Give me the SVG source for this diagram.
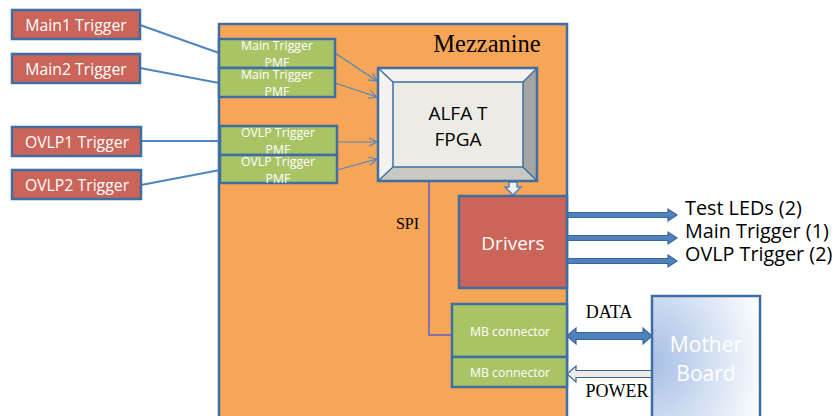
<svg xmlns="http://www.w3.org/2000/svg" width="836" height="416" viewBox="0 0 836 416">
<style>
.red{fill:#cb6459;stroke:#3f6ea3;stroke-width:2.5}
.grn{fill:#a9c465;stroke:#3f6ea3;stroke-width:2.5}
.wt{fill:#fff;font-family:"Open Sans","Liberation Sans",sans-serif;text-anchor:middle}
.ser{font-family:"Liberation Serif",serif;fill:#000}
.lbl{font-family:"Open Sans","Liberation Sans",sans-serif;font-size:19.8px;fill:#000}
.lnk{stroke:#4f86c2;stroke-width:2.2;fill:none}
.thin{stroke:#4f86c2;stroke-width:1.2;fill:none;marker-end:url(#open)}
.blk{fill:#4f81bd;stroke:#3a6699;stroke-width:1.2}
</style>
<defs>
<marker id="open" markerWidth="10" markerHeight="10" refX="9" refY="5" orient="auto" markerUnits="userSpaceOnUse">
<path d="M1,1 L9,5 L1,9" fill="none" stroke="#4f86c2" stroke-width="1.2"/>
</marker>
<radialGradient id="mb" cx="0" cy="0.5" r="1.1">
<stop offset="0" stop-color="#a7bfe6"/>
<stop offset="1" stop-color="#ffffff"/>
</radialGradient>
<clipPath id="c1"><rect x="219" y="39" width="116" height="29"/></clipPath>
<clipPath id="c2"><rect x="219" y="68" width="116" height="29"/></clipPath>
<clipPath id="c3"><rect x="220" y="126" width="117" height="29"/></clipPath>
<clipPath id="c4"><rect x="220" y="155" width="117" height="28"/></clipPath>
</defs>

<g id="mezzanine">
<rect x="219" y="24" width="348" height="400" fill="#f7a556" stroke="#3f6ea3" stroke-width="2.5"/>
<text x="487" y="52" class="ser" font-size="24.5" text-anchor="middle">Mezzanine</text>
</g>

<g id="connectors">
<line class="lnk" x1="140" y1="25" x2="219" y2="53"/>
<line class="lnk" x1="140" y1="68" x2="219" y2="83"/>
<line class="lnk" x1="141" y1="141" x2="220" y2="141"/>
<line class="lnk" x1="141" y1="185" x2="220" y2="170"/>
<line class="thin" x1="335" y1="53" x2="377" y2="81"/>
<line class="thin" x1="335" y1="83" x2="377" y2="97"/>
<line class="thin" x1="337" y1="142" x2="377" y2="142"/>
<line class="thin" x1="337" y1="170" x2="377" y2="159"/>
<polyline points="429,181 429,335 452,335" fill="none" stroke="#8a6fb0" stroke-width="2"/>
<path d="M509,182 H517 V187 H521 L513,195 L505,187 H509 Z" fill="#f2f2f2" stroke="#4f81bd" stroke-width="1.5"/>
<path class="blk" d="M567,212.5 H668 V209 L677,215 L668,221 V217.5 H567 Z"/>
<path class="blk" d="M567,235.5 H668 V232 L677,238 L668,244 V240.5 H567 Z"/>
<path class="blk" d="M567,258.5 H668 V255 L677,261 L668,267 V263.5 H567 Z"/>
<path class="blk" d="M567,336 L576,328 V332.5 H643 V328 L652,336 L643,344 V339.5 H576 V344 Z"/>
<path d="M567,374 L576,366 V370.5 H652 V377.5 H576 V382 Z" fill="#eeece1" stroke="#3a6699" stroke-width="1.2"/>
<text x="407.5" y="229" class="ser" font-size="16" text-anchor="middle">SPI</text>
<text x="609" y="318" class="ser" font-size="18" text-anchor="middle">DATA</text>
<text x="617" y="397" class="ser" font-size="18" text-anchor="middle">POWER</text>
</g>

<g id="main1"><rect class="red" x="12" y="10" width="128" height="29"/><text class="wt" x="76" y="31" font-size="15.8">Main1 Trigger</text></g>
<g id="main2"><rect class="red" x="12" y="54" width="128" height="29"/><text class="wt" x="76" y="75" font-size="15.8">Main2 Trigger</text></g>
<g id="ovlp1"><rect class="red" x="12" y="127" width="129" height="29"/><text class="wt" x="77" y="148" font-size="15.8">OVLP1 Trigger</text></g>
<g id="ovlp2"><rect class="red" x="12" y="170" width="129" height="29"/><text class="wt" x="77" y="191" font-size="15.8">OVLP2 Trigger</text></g>

<g id="pmf1"><rect class="grn" x="219" y="39" width="116" height="29"/><g clip-path="url(#c1)"><text class="wt" x="277" y="50" font-size="12.3">Main Trigger</text><text class="wt" x="277" y="67" font-size="12.3">PMF</text></g></g>
<g id="pmf2"><rect class="grn" x="219" y="68" width="116" height="29"/><g clip-path="url(#c2)"><text class="wt" x="277" y="79" font-size="12.3">Main Trigger</text><text class="wt" x="277" y="96" font-size="12.3">PMF</text></g></g>
<g id="pmf3"><rect class="grn" x="220" y="126" width="117" height="29"/><g clip-path="url(#c3)"><text class="wt" x="278" y="137" font-size="12.3">OVLP Trigger</text><text class="wt" x="278" y="154" font-size="12.3">PMF</text></g></g>
<g id="pmf4"><rect class="grn" x="220" y="155" width="117" height="28"/><g clip-path="url(#c4)"><text class="wt" x="278" y="166" font-size="12.3">OVLP Trigger</text><text class="wt" x="278" y="183" font-size="12.3">PMF</text></g></g>

<g id="fpga">
<rect x="378" y="68" width="159" height="113" fill="#f3f2ee"/>
<polygon points="523,82 537,68 537,181 523,167" fill="#a5a5a2"/>
<polygon points="393,167 523,167 537,181 378,181" fill="#c9c8c0"/>
<line x1="378" y1="68" x2="393" y2="82" stroke="#3f6ea3" stroke-width="1.5"/>
<line x1="537" y1="68" x2="523" y2="82" stroke="#3f6ea3" stroke-width="1.5"/>
<line x1="378" y1="181" x2="393" y2="167" stroke="#3f6ea3" stroke-width="1.5"/>
<line x1="537" y1="181" x2="523" y2="167" stroke="#3f6ea3" stroke-width="1.5"/>
<rect x="393" y="82" width="130" height="85" fill="#ecebe5" stroke="#3f6ea3" stroke-width="1.5"/>
<rect x="378" y="68" width="159" height="113" fill="none" stroke="#3f6ea3" stroke-width="2.5"/>
<text x="458" y="120" font-family="'Open Sans','Liberation Sans',sans-serif" font-size="19" fill="#000" text-anchor="middle">ALFA T</text>
<text x="458" y="146" font-family="'Open Sans','Liberation Sans',sans-serif" font-size="19" fill="#000" text-anchor="middle">FPGA</text>
</g>

<g id="drivers"><rect class="red" x="459" y="196" width="108" height="92"/><text class="wt" x="513" y="250" font-size="19">Drivers</text></g>

<g id="outputs">
<text class="lbl" x="685" y="215">Test LEDs (2)</text>
<text class="lbl" x="685" y="238">Main Trigger (1)</text>
<text class="lbl" x="685" y="261">OVLP Trigger (2)</text>
</g>

<g id="mbconn1"><rect class="grn" x="452" y="304" width="115" height="53"/><text class="wt" x="510" y="336" font-size="12.3">MB connector</text></g>
<g id="mbconn2"><rect class="grn" x="452" y="357" width="115" height="30"/><text class="wt" x="510" y="377" font-size="12.3">MB connector</text></g>

<g id="motherboard"><rect x="652" y="296" width="108" height="130" fill="url(#mb)" stroke="#3f6ea3" stroke-width="2.5"/><text class="wt" x="706" y="352" font-size="21">Mother</text><text class="wt" x="706" y="381" font-size="21">Board</text></g>
</svg>
